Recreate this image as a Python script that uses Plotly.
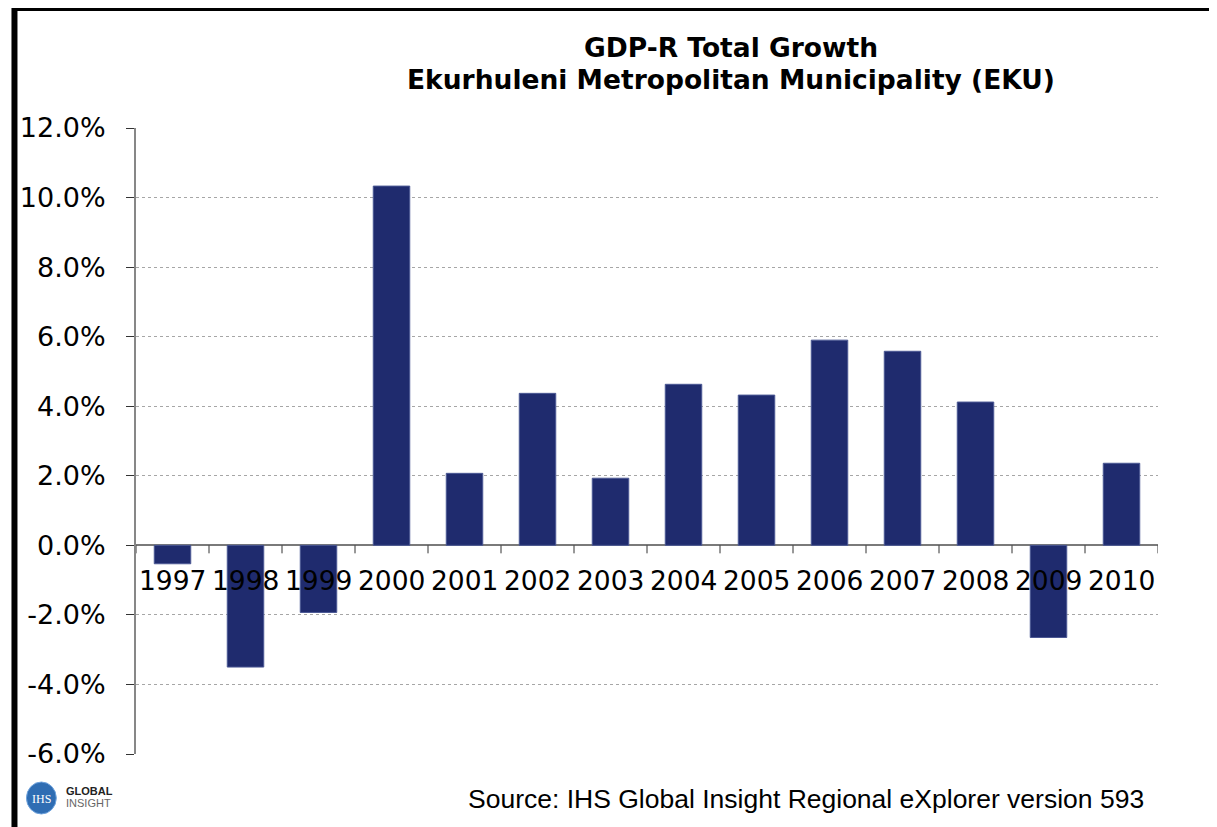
import plotly.graph_objects as go

years = ["1997", "1998", "1999", "2000", "2001", "2002", "2003",
         "2004", "2005", "2006", "2007", "2008", "2009", "2010"]
growth = [-0.53, -3.50, -1.93, 10.33, 2.07, 4.37, 1.93,
          4.63, 4.32, 5.90, 5.58, 4.12, -2.65, 2.36]
y_ticks = [-6, -4, -2, 0, 2, 4, 6, 8, 10, 12]
y_tick_text = [f"{v:.1f}%" for v in y_ticks]
title_lines = ["GDP-R Total Growth", "Ekurhuleni Metropolitan Municipality (EKU)"]
source_text = "Source: IHS Global Insight Regional eXplorer version 593"

# the page body adds an 8px offset; figure coords = screen coords - 8
OFF = 8
W, H = 1217 - OFF, 827 - OFF
L, R, T, B = 132, 1158, 128, 754  # plot area in screen coords


def px(x):
    return (x - L) / (R - L)


def py(y):
    return (B - y) / (B - T)


fig = go.Figure()
fig.add_trace(go.Bar(
    x=years, y=growth, width=0.5,
    marker=dict(color="#1f2b6e", line=dict(color="#4b5894", width=1)),
    showlegend=False, hoverinfo="x+y",
))

annotations = []
# category labels sitting under the zero line
for i, yr in enumerate(years):
    annotations.append(dict(x=i, y=0, xref="x", yref="y", text=yr,
                            showarrow=False, xanchor="center", yanchor="middle", yshift=-35,
                            font=dict(family="DejaVu Sans", size=26.5, color="#000")))
# title
annotations.append(dict(x=px(729), y=py(48), xref="paper", yref="paper",
                        text=title_lines[0], showarrow=False,
                        xanchor="center", yanchor="middle",
                        font=dict(family="DejaVu Sans", size=26.5, color="#000", weight="bold")))
annotations.append(dict(x=px(729), y=py(80), xref="paper", yref="paper",
                        text=title_lines[1], showarrow=False,
                        xanchor="center", yanchor="middle",
                        font=dict(family="DejaVu Sans", size=26.5, color="#000", weight="bold")))
# source
annotations.append(dict(x=px(1146), y=py(799), xref="paper", yref="paper",
                        text=source_text, showarrow=False, xanchor="right", yanchor="middle",
                        font=dict(family="Liberation Sans, Arial", size=26.5, color="#000")))
# logo text
annotations.append(dict(x=px(37), y=py(799), xref="paper", yref="paper",
                        text="IHS", showarrow=False, xanchor="center", yanchor="middle",
                        font=dict(family="Liberation Serif", size=12, color="#ffffff")))
annotations.append(dict(x=px(60), y=py(791), xref="paper", yref="paper",
                        text="GLOBAL", showarrow=False, xanchor="left", yanchor="middle",
                        font=dict(family="Liberation Sans", size=11, color="#222", weight="bold")))
annotations.append(dict(x=px(60), y=py(803), xref="paper", yref="paper",
                        text="INSIGHT", showarrow=False, xanchor="left", yanchor="middle",
                        font=dict(family="Liberation Sans Narrow, Liberation Sans", size=11, color="#666")))

shapes = []
# category tick marks below the zero line
for i in range(len(years) + 1):
    shapes.append(dict(type="line", xref="x", yref="y", x0=i - 0.5, x1=i - 0.5,
                       ysizemode="pixel", yanchor=0, y0=0, y1=-8,
                       line=dict(color="#333", width=1)))
# logo circle
shapes.append(dict(type="circle", xref="paper", yref="paper",
                   x0=px(22), x1=px(52), y0=py(814), y1=py(782),
                   fillcolor="#2f6db3", line=dict(color="#6fa3dd", width=1)))
# outer frame
shapes.append(dict(type="rect", xref="paper", yref="paper",
                   x0=px(10), x1=px(1217), y0=py(850), y1=py(8),
                   line=dict(color="#000", width=6), fillcolor="rgba(0,0,0,0)"))

fig.update_layout(
    width=W, height=H, autosize=False,
    margin=dict(l=L - OFF, r=W - (R - OFF), t=T - OFF, b=H - (B - OFF)),
    paper_bgcolor="#ffffff", plot_bgcolor="#ffffff",
    annotations=annotations, shapes=shapes,
    bargap=0.5,
    xaxis=dict(type="category", range=[-0.5, len(years) - 0.5],
               showticklabels=False, showgrid=False, showline=False,
               ticks="", zeroline=False),
    yaxis=dict(range=[-6, 12], tickvals=y_ticks, ticktext=y_tick_text,
               showgrid=True, gridcolor="#a6a6a6", griddash="dot", gridwidth=1,
               showline=True, linecolor="#878787", linewidth=2,
               ticks="outside", ticklen=8, tickcolor="#333", tickwidth=1,
               ticklabelstandoff=15,
               zeroline=True, zerolinecolor="#7a7a7a", zerolinewidth=2,
               tickfont=dict(family="DejaVu Sans", size=27, color="#000")),
)

fig.write_html("out.html")
